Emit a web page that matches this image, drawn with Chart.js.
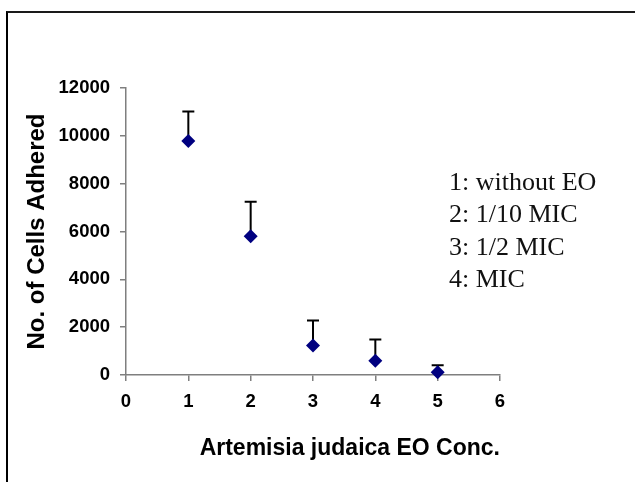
<!DOCTYPE html>
<html>
<head>
<meta charset="utf-8">
<script src="https://cdn.jsdelivr.net/npm/chart.js@4.4.1/dist/chart.umd.min.js"></script>
<style>
    body { margin: 0; background: #fff; }
    #wrap { position: relative; width: 635px; height: 482px; }
    #frame {
        position: absolute; left: 6px; top: 11px; right: 0; bottom: 0;
        border-left: 2px solid #000; border-top: 2px solid #1a1a1a;
        pointer-events: none;
    }
    canvas { position: absolute; left: 0; top: 0; }
</style>
</head>
<body>
<div id="wrap">
    <canvas id="chart" width="635" height="482"></canvas>
    <div id="frame"></div>
</div>
<script>
// dati
const concentrations = [1, 2, 3, 4, 5];
const cellsAdhered = [9780, 5800, 1230, 600, 120];
const errorUp = [1240, 1440, 1050, 880, 290];
const legendLines = ["1: without EO", "2: 1/10 MIC", "3: 1/2 MIC", "4: MIC"];

const axisColor = '#7f7f7f';
const tickFont = { family: "'Liberation Sans', Arial, sans-serif", size: 18.5, weight: 'bold' };

// Barre di errore (solo verso l'alto)
const errorBars = {
    id: 'errorBars',
    beforeDatasetsDraw(chart) {
        const { ctx, scales: { x, y } } = chart;
        ctx.save();
        ctx.strokeStyle = '#000';
        ctx.lineWidth = 2;
        concentrations.forEach((c, i) => {
            const px = x.getPixelForValue(c);
            const py = y.getPixelForValue(cellsAdhered[i]);
            const top = y.getPixelForValue(cellsAdhered[i] + errorUp[i]);
            ctx.beginPath();
            ctx.moveTo(px, py);
            ctx.lineTo(px, top);
            ctx.moveTo(px - 6, top);
            ctx.lineTo(px + 6, top);
            ctx.stroke();
        });
        ctx.restore();
    }
};

// Legenda testuale a destra
const textLegend = {
    id: 'textLegend',
    afterDraw(chart) {
        const { ctx } = chart;
        ctx.save();
        ctx.fillStyle = '#111';
        ctx.font = "26px 'Liberation Serif', 'Times New Roman', serif";
        ctx.textAlign = 'left';
        ctx.textBaseline = 'alphabetic';
        legendLines.forEach((t, i) => {
            ctx.fillText(t, 449, 189.5 + i * 32.5);
        });
        ctx.restore();
    }
};

new Chart(document.getElementById('chart').getContext('2d'), {
    type: 'scatter',
    data: {
        datasets: [{
            data: concentrations.map((c, i) => ({ x: c, y: cellsAdhered[i] })),
            pointStyle: 'rectRot',
            pointRadius: 7,
            pointHoverRadius: 7,
            backgroundColor: '#000080',
            borderColor: '#000080',
            borderWidth: 0,
            clip: false
        }]
    },
    options: {
        responsive: false,
        animation: false,
        layout: { padding: { top: 88, right: 135, bottom: 0, left: 0 } },
        plugins: {
            legend: { display: false },
            tooltip: { enabled: false }
        },
        scales: {
            x: {
                type: 'linear',
                min: 0,
                max: 6,
                afterFit(scale) { scale.height = 107; },
                ticks: { stepSize: 1, color: '#000', font: tickFont, padding: 10, callback: v => String(v) },
                grid: { drawOnChartArea: false, color: axisColor, lineWidth: 1.5, tickLength: 6 },
                border: { color: axisColor, width: 1.5 },
                title: {
                    display: true,
                    text: 'Artemisia judaica EO Conc.',
                    color: '#000',
                    font: { family: "'Liberation Sans', Arial, sans-serif", size: 23, weight: 'bold' },
                    align: 'end',
                    padding: { top: 0, bottom: 20 }
                }
            },
            y: {
                min: 0,
                max: 12000,
                afterFit(scale) { scale.width = 126; },
                ticks: { stepSize: 2000, color: '#000', font: tickFont, padding: 10, callback: v => String(v) },
                grid: { drawOnChartArea: false, color: axisColor, lineWidth: 1.5, tickLength: 6 },
                border: { color: axisColor, width: 1.5 },
                title: {
                    display: true,
                    text: 'No. of Cells Adhered',
                    color: '#000',
                    font: { family: "'Liberation Sans', Arial, sans-serif", size: 24, weight: 'bold' },
                    padding: { top: 23, bottom: 0 }
                }
            }
        }
    },
    plugins: [errorBars, textLegend]
});
</script>
</body>
</html>
